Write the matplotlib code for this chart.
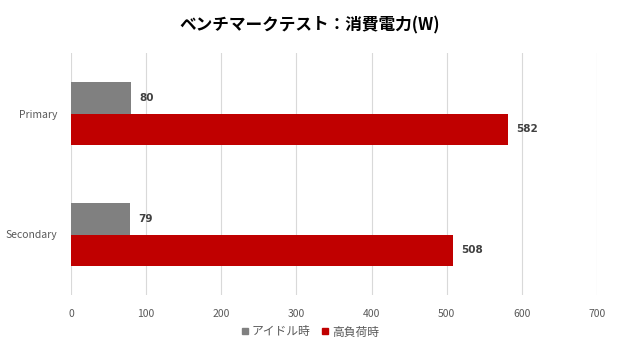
import matplotlib
matplotlib.use('Agg')
import matplotlib.pyplot as plt
from matplotlib.lines import Line2D
import numpy as np

plt.rcParams['font.family'] = ['Noto Sans CJK JP', 'DejaVu Sans']

categories = ['Primary', 'Secondary']
series_names = ['アイドル時', '高負荷時']
idle = [80, 79]
load = [582, 508]
x_ticks = [0, 100, 200, 300, 400, 500, 600, 700]
colors = ['#808080', '#C00000']

fig = plt.figure(figsize=(6.2, 3.5), dpi=100)
ax = fig.add_axes([71 / 620, 1 - 295 / 350, 526 / 620, 242 / 350])

y = np.arange(len(categories))
h = 0.263
ax.barh(y - h / 2, idle, height=h, color=colors[0], zorder=3)
ax.barh(y + h / 2, load, height=h, color=colors[1], zorder=3)

for vals, off in [(idle, -h / 2), (load, h / 2)]:
    for yi, v in zip(y, vals):
        ax.text(v + 11, yi + off, str(v), va='center', ha='left', family='DejaVu Sans',
                fontsize=7.5, fontweight='bold', color='#404040')

ax.set_xlim(0, 700)
ax.set_ylim(1.5, -0.5)
ax.set_xticks(x_ticks)
ax.set_yticks(y)
ax.set_yticklabels(categories)
ax.tick_params(axis='both', length=0, labelsize=7.5, colors='#595959')
ax.tick_params(axis='x', pad=10)
ax.tick_params(axis='y', pad=10)
ax.grid(axis='x', color='#d9d9d9', linewidth=0.8, zorder=0)
for s in ax.spines.values():
    s.set_visible(False)

fig.text(0.5, 1 - 25 / 350, 'ベンチマークテスト：消費電力(W)', ha='center', va='center',
         fontsize=12, fontweight='bold', color='#000000')

handles = [Line2D([], [], marker='s', linestyle='none', color=c, markersize=5) for c in colors]
fig.legend(handles, series_names, loc='center', bbox_to_anchor=(0.5, 1 - 332 / 350),
           ncol=2, frameon=False, fontsize=8.5, handlelength=0.6, handletextpad=0.3,
           columnspacing=0.9, labelcolor='#595959')

fig.savefig('out.png', dpi=100)
plt.close(fig)
